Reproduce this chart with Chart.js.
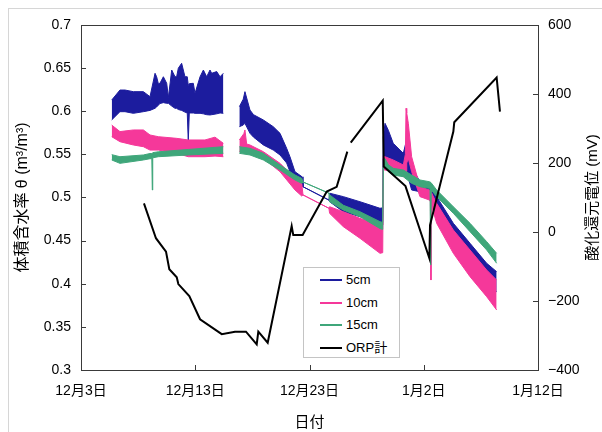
<!DOCTYPE html>
<html>
<head>
<meta charset="utf-8">
<script src="https://cdn.jsdelivr.net/npm/chart.js@4"></script>
<style>
  body { margin: 0; background: #fff; overflow: hidden; }
  #wrap { position: relative; width: 602px; height: 432px; }
  #frame { position: absolute; left: 8px; top: 8px; width: 700px; height: 600px; border: 1px solid #d6d6d6; }
  #c { position: absolute; left: 0; top: 0; }
  #legend { position: absolute; left: 303px; top: 267px; width: 97px; height: 91px; border: 1px solid #c4c4c4;
            background: #fff; font: 13px "Liberation Sans", Arial, "Noto Sans CJK JP", sans-serif; box-sizing: border-box; }
  #legend .row { position: absolute; left: 0; height: 16px; line-height: 16px; }
  #legend .sw { position: absolute; left: 16px; top: 7px; width: 22px; height: 2px; }
  #legend .tx { position: absolute; left: 42px; top: 0; white-space: nowrap; color: #000; }
</style>
</head>
<body>
<div id="wrap">
  <div id="frame"></div>
  <canvas id="c" width="602" height="432"></canvas>
  <div id="legend"></div>
</div>
<script>
// ---- data (x = days since 12/3) ----
const xTickLabels = ['12月3日', '12月13日', '12月23日', '1月2日', '1月12日'];
const seriesNames = ['5cm', '10cm', '15cm', 'ORP計'];
const seriesColors = ['#1c1c9e', '#f5389a', '#3fa67a', '#000000'];

// 5cm (upper / lower edge of the noisy trace, null = gap)
const cm5Day = [2.69, 3.41, 3.85, 4.58, 5.46, 6.04, 6.48, 6.62, 6.77, 6.91, 7.21, 7.50, 7.65, 7.94, 8.23, 8.37, 8.52, 8.81, 9.10, 9.30, 9.39, 9.48, 9.83, 9.98, 10.42, 10.71, 11.0, 11.29, 11.44, 11.88, 12.17, 12.46,
  13.2,
  13.86, 14.2, 14.35, 14.79, 15.1, 15.96, 16.83, 17.42, 18.0, 18.29, 18.73, 19.35,
  19.43, 21.70,
  21.76, 22.96, 24.42, 25.30, 26.17, 26.41,
  26.46, 26.61, 26.9, 27.33, 28.21, 28.5, 28.94, 29.67, 30.49, 31.13, 32.59, 34.05, 35.51, 36.38];
const cm5Hi = [0.613, 0.6246, 0.6246, 0.6227, 0.6227, 0.6169, 0.644, 0.640, 0.632, 0.6324, 0.640, 0.6324, 0.616, 0.6478, 0.640, 0.640, 0.650, 0.6556, 0.640, 0.640, 0.630, 0.632, 0.6324, 0.6208, 0.640, 0.6478, 0.640, 0.6478, 0.644, 0.646, 0.640, 0.644,
  null,
  0.6053, 0.614, 0.6227, 0.6014, 0.596, 0.5899, 0.5821, 0.5744, 0.557, 0.5473, 0.5299, 0.524,
  0.5125, 0.497,
  0.505, 0.501, 0.4951, 0.4913, 0.4875, 0.488,
  0.57, 0.586, 0.578, 0.5628, 0.5512, 0.567, 0.5357, 0.5183, 0.5125, 0.501, 0.4701, 0.4469, 0.4237, 0.414];
const cm5Lo = [0.590, 0.5995, 0.5995, 0.5976, 0.5995, 0.601, 0.6034, 0.605, 0.607, 0.609, 0.610, 0.6092, 0.6092, 0.606, 0.6034, 0.6034, 0.602, 0.601, 0.599, 0.598, 0.565, 0.598, 0.598, 0.5976, 0.5976, 0.597, 0.596, 0.5957, 0.596, 0.597, 0.598, 0.5976,
  null,
  0.5821, 0.584, 0.586, 0.5744, 0.57, 0.5609, 0.555, 0.5493, 0.540, 0.5299, 0.5222, 0.5164,
  0.5125, 0.497,
  0.4951, 0.4835, 0.4778, 0.474, 0.4681, 0.468,
  0.545, 0.5435, 0.5396, 0.5377, 0.5261, 0.53, 0.5087, 0.5067, 0.501, 0.4778, 0.4469, 0.4237, 0.3966, 0.3908];

// 10cm
const cm10Day = [2.69, 3.41, 4.58, 5.46, 6.04, 6.77, 8.37, 9.39, 10.85, 11.73, 12.46,
  13.2,
  13.86, 14.25, 14.35, 14.5, 14.79, 15.96, 17.42, 18.73, 19.32,
  19.43, 21.70,
  21.76, 22.96, 24.42, 26.17, 26.41,
  26.46, 26.61, 27.33, 28.21, 28.39, 28.45, 28.51, 28.65, 28.94, 29.67, 30.49, 30.58, 30.63, 30.7, 31.13, 32.59, 34.05, 35.51, 36.38];
const cm10Hi = [0.584, 0.5764, 0.5783, 0.5783, 0.5725, 0.5705, 0.5686, 0.5667, 0.5667, 0.570, 0.5628,
  null,
  0.5667, 0.574, 0.5783, 0.562, 0.5609, 0.5531, 0.5396, 0.5222, 0.5164,
  0.503, 0.4875,
  0.4893, 0.4835, 0.4758, 0.4681, 0.468,
  0.548, 0.5473, 0.5435, 0.5377, 0.55, 0.6034, 0.598, 0.586, 0.5473, 0.5125, 0.5087, 0.508, 0.50, 0.505, 0.4932, 0.4623, 0.4391, 0.4159, 0.4043];
const cm10Lo = [0.5705, 0.5647, 0.5609, 0.5589, 0.555, 0.555, 0.5512, 0.5473, 0.5473, 0.548, 0.5473,
  null,
  0.5531, 0.555, 0.556, 0.553, 0.5512, 0.5454, 0.5299, 0.5087, 0.5017,
  0.503, 0.4875,
  0.4816, 0.4662, 0.4527, 0.4353, 0.436,
  0.532, 0.5319, 0.5299, 0.5241, 0.525, 0.53, 0.54, 0.545, 0.53, 0.501, 0.4971, 0.495, 0.4043, 0.49, 0.4701, 0.4353, 0.4082, 0.385, 0.3696];

// 15cm
const cm15Day = [2.69, 3.41, 5.46, 6.04, 6.20, 6.24, 6.28, 6.77, 9.39, 12.46,
  13.2,
  13.86, 14.79, 15.96, 17.42, 18.73, 19.32,
  19.43, 21.70,
  21.76, 22.96, 24.42, 26.17, 26.41,
  26.46, 26.61, 26.9, 27.33, 28.21, 28.94, 29.67, 30.49, 30.55, 30.6, 30.65, 31.13, 32.59, 34.05, 35.51, 36.38];
const cm15Hi = [0.5497, 0.5473, 0.5493, 0.551, 0.551, 0.551, 0.552, 0.553, 0.5557, 0.5589,
  null,
  0.5589, 0.557, 0.5512, 0.5377, 0.5261, 0.5222,
  0.518, 0.505,
  0.503, 0.491, 0.4835, 0.472, 0.471,
  0.545, 0.545, 0.538, 0.5338, 0.5319, 0.5261, 0.5203, 0.5183, 0.518, 0.518, 0.517, 0.5087, 0.4893, 0.4701, 0.4488, 0.4353];
const cm15Lo = [0.5435, 0.5396, 0.5435, 0.545, 0.545, 0.5087, 0.546, 0.5473, 0.5493, 0.5512,
  null,
  0.5512, 0.5493, 0.5435, 0.5319, 0.5203, 0.5164,
  0.518, 0.505,
  0.4951, 0.4855, 0.4778, 0.464, 0.463,
  0.536, 0.5357, 0.53, 0.5261, 0.5241, 0.5164, 0.5125, 0.5106, 0.510, 0.4217, 0.509, 0.501, 0.4817, 0.4604, 0.4391, 0.4237];

// ORP (mV, right axis)
const orpDay = [5.51, 6.56, 7.44, 7.73, 8.38, 8.52, 9.48, 10.42, 12.32, 13.48, 14.44, 15.38, 15.52, 16.34, 18.44, 18.58, 19.40,
  21.51, 22.38, 23.31, 23.45, 23.61, 26.41, 26.50, 28.40, 30.49, 30.55, 32.59, 32.67, 36.38, 36.67];
const orpMv = [83, -18, -57, -108, -131, -151, -186, -253, -296, -289, -289, -326, -289, -321, 17, -9, -9,
  117, 131, 233, null, 259, 381, 190, 133, -76, 20, 291, 318, 448, 349];

const leftTitle = '体積含水率 θ (m³/m³)';
const rightTitle = '酸化還元電位 (mV)';
const xTitle = '日付';

const FONT = '"Liberation Sans", Arial, "Noto Sans CJK JP", sans-serif';

// ---- helpers ----
function pts(days, vals) {
  return days.map((d, i) => ({ x: d, y: vals[i] }));
}

function band(days, hi, lo, color, label, order) {
  const common = { borderColor: color, borderWidth: 1, pointRadius: 0, tension: 0, spanGaps: false, order: order, yAxisID: 'y' };
  return [
    Object.assign({ label: label, data: pts(days, hi), fill: false }, common),
    Object.assign({ label: label + ' lo', data: pts(days, lo), fill: '-1', backgroundColor: color }, common)
  ];
}

// inside tick marks, plot border and the right title
const framePlugin = {
  id: 'frame',
  afterDraw(chart) {
    const { ctx, chartArea: a, scales } = chart;
    ctx.save();
    ctx.strokeStyle = '#3a3a3a';
    ctx.lineWidth = 1;
    ctx.strokeRect(a.left + 0.5, a.top + 0.5, a.right - a.left, a.bottom - a.top);
    ctx.beginPath();
    scales.y.ticks.forEach(t => {
      const y = Math.round(scales.y.getPixelForValue(t.value)) + 0.5;
      ctx.moveTo(a.left, y); ctx.lineTo(a.left + 5, y);
    });
    scales.y1.ticks.forEach(t => {
      const y = Math.round(scales.y1.getPixelForValue(t.value)) + 0.5;
      ctx.moveTo(a.right - 5, y); ctx.lineTo(a.right, y);
    });
    scales.x.ticks.forEach(t => {
      const x = Math.round(scales.x.getPixelForValue(t.value)) + 0.5;
      ctx.moveTo(x, a.bottom - 5); ctx.lineTo(x, a.bottom);
    });
    ctx.stroke();

    ctx.translate(a.right + 55, (a.top + a.bottom) / 2);
    ctx.rotate(-Math.PI / 2);
    ctx.font = '15px ' + FONT;
    ctx.fillStyle = '#000';
    ctx.textAlign = 'center';
    ctx.textBaseline = 'middle';
    ctx.fillText(rightTitle, 0, 0);
    ctx.restore();
  }
};

const datasets = [
  { label: seriesNames[3], data: pts(orpDay, orpMv), yAxisID: 'y1', borderColor: seriesColors[3], borderWidth: 2,
    pointRadius: 0, tension: 0, fill: false, spanGaps: false, order: 0 }
]
  .concat(band(cm15Day, cm15Hi, cm15Lo, seriesColors[2], seriesNames[2], 1))
  .concat(band(cm10Day, cm10Hi, cm10Lo, seriesColors[1], seriesNames[1], 2))
  .concat(band(cm5Day, cm5Hi, cm5Lo, seriesColors[0], seriesNames[0], 3));

const tickFont = { family: FONT, size: 14 };
const noGrid = { display: false, drawTicks: false, tickLength: 0 };

new Chart(document.getElementById('c'), {
  type: 'line',
  data: { datasets },
  options: {
    responsive: false,
    animation: false,
    devicePixelRatio: 1,
    layout: { padding: { top: 25, left: 0, right: 0, bottom: 0 } },
    plugins: { legend: { display: false }, tooltip: { enabled: false } },
    scales: {
      x: {
        type: 'linear', min: 0, max: 40,
        afterFit(s) { s.height = 62; },
        grid: noGrid,
        border: { display: false },
        ticks: { stepSize: 10, padding: 13, color: '#000', font: tickFont, maxRotation: 0, autoSkip: false,
                 callback: (v, i) => xTickLabels[i] },
        title: { display: true, text: xTitle, color: '#000', font: { family: FONT, size: 15 }, padding: { top: 0, bottom: 0 } }
      },
      y: {
        position: 'left', min: 0.3, max: 0.7,
        afterFit(s) { s.width = 81; },
        grid: noGrid,
        border: { display: false },
        ticks: { stepSize: 0.05, padding: 10, color: '#000', font: tickFont, callback: v => String(+v.toFixed(2)) },
        title: { display: true, text: leftTitle, color: '#000', font: { family: FONT, size: 16 }, padding: { top: 13, bottom: 0 } }
      },
      y1: {
        position: 'right', min: -400, max: 600,
        afterFit(s) { s.width = 64; },
        grid: noGrid,
        border: { display: false },
        ticks: { stepSize: 200, padding: 10, color: '#000', font: tickFont,
                 callback: v => (v < 0 ? '\u2212' + Math.abs(v) : String(v)) }
      }
    }
  },
  plugins: [framePlugin]
});

// ---- legend ----
const legend = document.getElementById('legend');
seriesNames.forEach((name, i) => {
  const row = document.createElement('div');
  row.className = 'row';
  row.style.top = (4 + i * 22.7) + 'px';
  row.style.width = '95px';
  row.innerHTML = '<span class="sw" style="background:' + seriesColors[i] + '"></span><span class="tx">' + name + '</span>';
  legend.appendChild(row);
});
</script>
</body>
</html>
